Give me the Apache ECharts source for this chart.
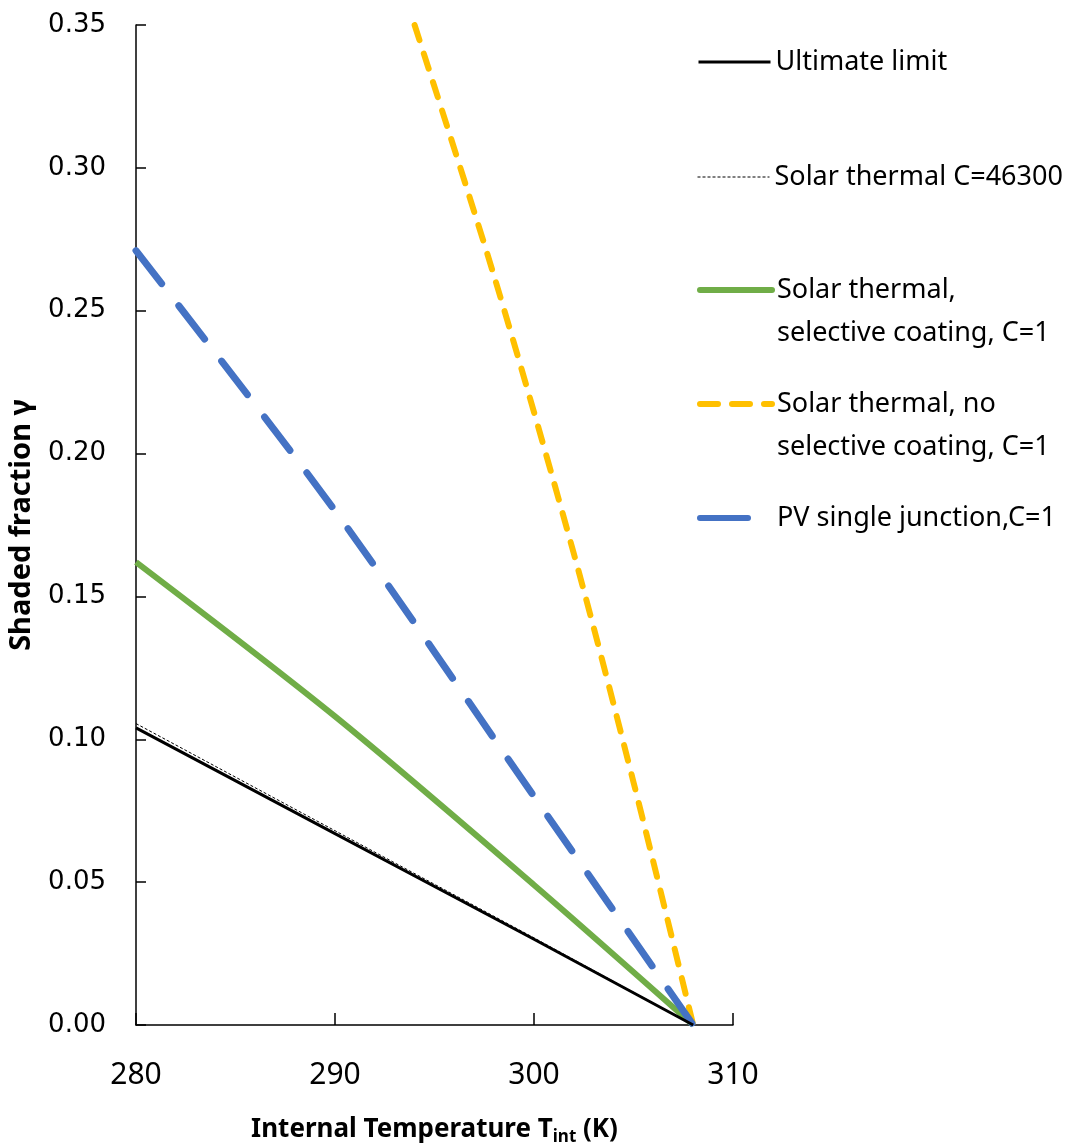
<!DOCTYPE html>
<html>
<head>
<meta charset="utf-8">
<script src="https://cdn.jsdelivr.net/npm/echarts@6/dist/echarts.min.js"></script>
<style>
  html, body { margin: 0; padding: 0; background: #fff; }
  #chart { width: 1086px; height: 1146px; }
</style>
</head>
<body>
<div id="chart"></div>
<script>
// values: [T (K), gamma]
var ultimate = [[280, 0.104], [290, 0.067], [300, 0.030], [308, 0]];
var thermal46300 = [[280, 0.1055], [290, 0.068], [300, 0.0305], [308, 0]];
var selective = [[280, 0.162], [290, 0.108], [300, 0.049], [308, 0]];
var noSelective = [[294, 0.35], [298, 0.262], [302, 0.165], [305, 0.085], [308, 0]];
var pvSingle = [[280, 0.271], [290, 0.180], [300, 0.080], [308, 0]];

var names = [
  'Ultimate limit',
  'Solar thermal C=46300',
  'Solar thermal,\nselective coating, C=1',
  'Solar thermal, no\nselective coating, C=1',
  'PV single junction,C=1'
];

var txtFont = 'Noto Sans';

// one legend box per entry, the icon sits on the first text line
function oneLegend(name, lineCenter, two, lineStyle) {
  var l = {
    data: [name],
    left: 697,
    top: two ? lineCenter - 64.5 : lineCenter - 21.5,
    orient: 'vertical',
    padding: 0,
    itemWidth: 72,
    itemHeight: 14,
    itemGap: 0,
    selectedMode: false,
    itemStyle: { opacity: 0 },
    lineStyle: lineStyle,
    textStyle: { fontFamily: txtFont, fontSize: 27, color: '#000', lineHeight: 43 }
  };
  if (two) l.formatter = function (n) { return '\n' + n; };
  return l;
}

var myChart = echarts.init(document.getElementById('chart'));
option = {
  backgroundColor: '#fff',
  animation: false,
  grid: { left: 136, right: 353, top: 25, bottom: 121, outerBoundsMode: 'none', containLabel: false },
  legend: [
    oneLegend(names[0], 62, false, { color: '#000', width: 3, type: 'solid' }),
    oneLegend(names[1], 177, false, { color: '#000', width: 1, type: [3, 2] }),
    oneLegend(names[2], 290, true, { color: '#70AD47', width: 6, type: 'solid', cap: 'round' }),
    oneLegend(names[3], 404, true, { color: '#FFC000', width: 6, type: [18, 14], cap: 'round' }),
    oneLegend(names[4], 518, false, { color: '#4472C4', width: 6, type: [48, 100], cap: 'round' })
  ],
  xAxis: {
    type: 'value',
    min: 280,
    max: 310,
    interval: 10,
    name: 'Internal Temperature T{sub|int} (K)',
    nameLocation: 'middle',
    nameGap: 88,
    nameTextStyle: {
      fontFamily: txtFont, fontSize: 26, fontWeight: 'bold', color: '#000',
      rich: {
        sub: { fontFamily: txtFont, fontSize: 17, fontWeight: 'bold', color: '#000', padding: [16, 0, 0, 0] }
      }
    },
    axisLine: { lineStyle: { color: '#000', width: 1.5 } },
    axisTick: { inside: true, length: 12, lineStyle: { color: '#000', width: 1.5 } },
    axisLabel: { fontFamily: txtFont, fontSize: 30, color: '#000', margin: 35 },
    splitLine: { show: false }
  },
  yAxis: {
    type: 'value',
    min: 0,
    max: 0.35,
    interval: 0.05,
    name: 'Shaded fraction \u03b3',
    nameLocation: 'middle',
    nameGap: 100,
    nameTextStyle: { fontFamily: txtFont, fontSize: 29, fontWeight: 'bold', color: '#000' },
    axisLine: { show: true, lineStyle: { color: '#000', width: 1.5 } },
    axisTick: { show: true, inside: true, length: 10, lineStyle: { color: '#000', width: 1.5 } },
    axisLabel: {
      fontFamily: 'DejaVu Sans', fontSize: 26, color: '#000', margin: 30,
      formatter: function (v) { return v.toFixed(2); }
    },
    splitLine: { show: false }
  },
  series: [
    {
      name: names[0], type: 'line', data: ultimate, symbol: 'none', z: 3,
      lineStyle: { color: '#000', width: 3 }, itemStyle: { color: '#000' }
    },
    {
      name: names[1], type: 'line', data: thermal46300, symbol: 'none', z: 4,
      lineStyle: { color: '#000', width: 1, type: [3, 2] }, itemStyle: { color: '#000' }
    },
    {
      name: names[2], type: 'line', data: selective, symbol: 'none', smooth: 0.3, z: 2,
      lineStyle: { color: '#70AD47', width: 6 }, itemStyle: { color: '#70AD47' }
    },
    {
      name: names[3], type: 'line', data: noSelective, symbol: 'none', smooth: 0.3, z: 2,
      lineStyle: { color: '#FFC000', width: 6, type: [16, 14], cap: 'round' }, itemStyle: { color: '#FFC000' }
    },
    {
      name: names[4], type: 'line', data: pvSingle, symbol: 'none', smooth: 0.3, z: 2,
      lineStyle: { color: '#4472C4', width: 7, type: [42, 28], cap: 'round' }, itemStyle: { color: '#4472C4' }
    }
  ]
};
myChart.setOption(option);
</script>
</body>
</html>
